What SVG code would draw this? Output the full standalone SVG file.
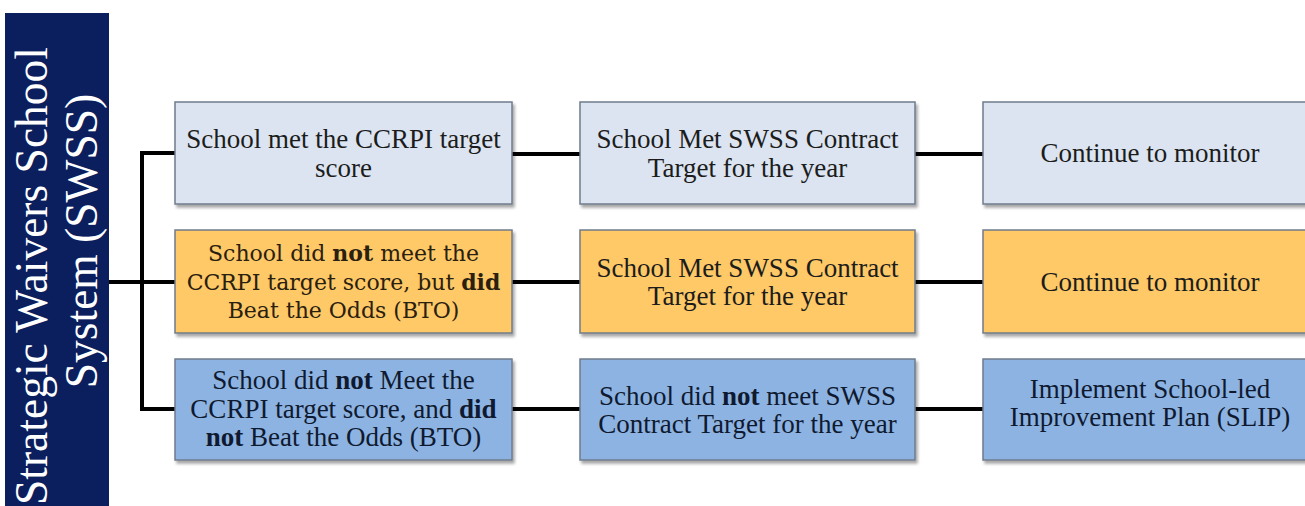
<svg xmlns="http://www.w3.org/2000/svg" width="1305" height="506" viewBox="0 0 1305 506">
<defs>
<filter id="sh" x="-5%" y="-10%" width="115%" height="130%">
<feDropShadow dx="2" dy="3" stdDeviation="1.6" flood-color="#000" flood-opacity="0.35"/>
</filter>
<style>
.box{stroke:#6f7c8c;stroke-width:1.5;filter:url(#sh)}
.r1{fill:#dbe4f0}
.r2{fill:#fec966}
.r3{fill:#8db3e2}
.t{font-family:"Liberation Serif","Times New Roman",serif;font-size:27px;text-anchor:middle;fill:#1c1c1c}
.t3{fill:#0f1a30}
.c{font-family:"DejaVu Serif",serif;font-size:22px;text-anchor:middle;fill:#2a2010}
.b{font-weight:bold}
.ln{stroke:#000;stroke-width:4;fill:none}
.title{font-family:"Liberation Serif","Times New Roman",serif;font-size:45.5px;text-anchor:middle;fill:#fff}
</style>
</defs>
<rect width="1305" height="506" fill="#fff"/>
<g id="connectors">
<path class="ln" d="M109 282H142M142 153V409M140 153H176M142 282H176M140 409H176"/>
<path class="ln" d="M512 154H580M512 282H580M512 409H580"/>
<path class="ln" d="M915 154H983M915 282H983M915 409H983"/>
</g>
<g id="swss">
<rect x="5" y="13" width="104" height="493" fill="#0b1f5e"/>
<text class="title" transform="translate(47,276) rotate(-90)">Strategic Waivers School</text>
<text class="title" transform="translate(97,241) rotate(-90)">System (SWSS)</text>
</g>
<g id="n11">
<rect class="box r1" x="175" y="102" width="337" height="102"/>
<text class="t" x="343.5" y="148">School met the CCRPI target</text>
<text class="t" x="343.5" y="177">score</text>
</g>
<g id="n12">
<rect class="box r1" x="580" y="102" width="335" height="102"/>
<text class="t" x="747.5" y="148">School Met SWSS Contract</text>
<text class="t" x="747.5" y="177">Target for the year</text>
</g>
<g id="n13">
<rect class="box r1" x="983" y="102" width="330" height="102"/>
<text class="t" x="1150" y="162">Continue to monitor</text>
</g>
<g id="n21">
<rect class="box r2" x="175" y="230" width="337" height="103"/>
<text class="c" x="343.5" y="261">School did <tspan class="b">not</tspan> meet the</text>
<text class="c" x="343.5" y="290">CCRPI target score, but <tspan class="b">did</tspan></text>
<text class="c" x="343.5" y="318">Beat the Odds (BTO)</text>
</g>
<g id="n22">
<rect class="box r2" x="580" y="230" width="335" height="103"/>
<text class="t" x="747.5" y="277">School Met SWSS Contract</text>
<text class="t" x="747.5" y="305">Target for the year</text>
</g>
<g id="n23">
<rect class="box r2" x="983" y="230" width="330" height="103"/>
<text class="t" x="1150" y="291">Continue to monitor</text>
</g>
<g id="n31">
<rect class="box r3" x="175" y="359" width="337" height="101"/>
<text class="t t3" x="343.5" y="389">School did <tspan class="b">not</tspan> Meet the</text>
<text class="t t3" x="343.5" y="418">CCRPI target score, and <tspan class="b">did</tspan></text>
<text class="t t3" x="343.5" y="446"><tspan class="b">not</tspan> Beat the Odds (BTO)</text>
</g>
<g id="n32">
<rect class="box r3" x="580" y="359" width="335" height="101"/>
<text class="t t3" x="747.5" y="405">School did <tspan class="b">not</tspan> meet SWSS</text>
<text class="t t3" x="747.5" y="433">Contract Target for the year</text>
</g>
<g id="n33">
<rect class="box r3" x="983" y="359" width="330" height="101"/>
<text class="t t3" x="1150" y="398">Implement School-led</text>
<text class="t t3" x="1150" y="426">Improvement Plan (SLIP)</text>
</g>
</svg>
